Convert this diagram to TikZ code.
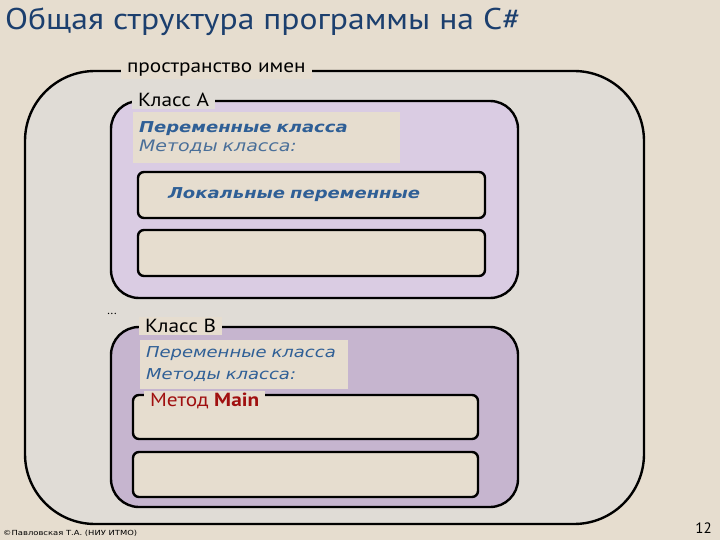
\documentclass[tikz,border=0pt]{standalone}
\usepackage{fontspec}
\setmainfont{PT Sans}
\newfontfamily\tahomafont[FakeStretch=1.12]{PT Sans}
\newfontfamily\verdanafont[FakeStretch=1.2]{DejaVu Sans}
\usepackage{xcolor}
\definecolor{cPaper}{HTML}{E6DDCF}
\definecolor{cSpace}{HTML}{E0DCD6}
\definecolor{cClassA}{HTML}{DACCE3}
\definecolor{cClassB}{HTML}{C6B5CF}
\definecolor{cTitle}{HTML}{1C3F6E}
\definecolor{cText}{HTML}{2F5F96}
\definecolor{cTextLight}{HTML}{4A6F99}
\definecolor{cMain}{HTML}{A01010}
\usepackage{tikz}
\usetikzlibrary{positioning}
\tikzset{
  node-frame/.style={draw=black,line width=2.4pt,inner sep=0pt},
  node-space/.style={node-frame,fill=cSpace,rounded corners=70pt},
  node-class/.style={node-frame,rounded corners=28pt},
  node-block/.style={node-frame,fill=cPaper,rounded corners=6pt,
    minimum height=46pt},
  node-vars/.style={fill=cPaper,inner xsep=6pt,inner ysep=0pt,align=left,
    font=\verdanafont\fontsize{15}{19}\selectfont},
  node-tag/.style={anchor=west,inner xsep=6pt,inner ysep=2pt,
    font=\tahomafont\fontsize{19}{22}\selectfont},
}

\begin{document}
\begin{tikzpicture}[x=1pt,y=-1pt]
  \useasboundingbox[fill=cPaper] (0,0) rectangle (720,540);
  \node[anchor=base west,text=cTitle,inner sep=0pt,
    font=\tahomafont\fontsize{30}{33}\selectfont] (title) at (5,30)
    {Общая структура программы на C\#};
  % пространство имен
  \node[node-space,minimum width=619,minimum height=453] (space) at (334.5,297.5) {};
  \node[node-tag,fill=cPaper] (space-tag) at ([xshift=97pt]space.north west) {пространство имен};
  % класс A
  \node[node-class,fill=cClassA,minimum width=407,minimum height=197] (classA) at (314.5,199.5) {};
  \node[node-vars,text width=255pt,minimum height=51pt] (classA-vars) at (266.5,137.5)
    {\textcolor{cText}{\bfseries\itshape Переменные класса}\\
     \textcolor{cTextLight}{\itshape\fontsize{15.8}{19}\selectfont Методы класса:}};
  \node[node-block,minimum width=347,inner xsep=30pt,text width=287pt,align=left,
    font=\verdanafont\bfseries\itshape\fontsize{15}{18}\selectfont,text=cText]
    (classA-local) at (311.5,195) {Локальные переменные};
  \node[node-block,minimum width=347] (classA-free) at (311.5,253) {};
  \node[node-tag,fill=cSpace] (classA-tag) at ([xshift=22pt]classA.north west) {Класс А};
  \node[font=\fontsize{12}{12}\selectfont,inner sep=0pt] (dots) at (112,314) {...};
  % класс B
  \node[node-class,fill=cClassB,minimum width=407,minimum height=180] (classB) at (314.5,417) {};
  \node[node-vars,text width=196pt,minimum height=49pt,
    font=\verdanafont\itshape\fontsize{15}{22}\selectfont] (classB-vars) at (244,364.5)
    {\textcolor{cText}{Переменные класса}\\
     \textcolor{cText}{Методы класса:}};
  \node[node-block,minimum width=345,minimum height=44pt] (classB-main) at (305.5,417) {};
  \node[node-block,minimum width=345,minimum height=45pt] (classB-free) at (305.5,474.5) {};
  \node[node-tag,fill=cPaper] (classB-tag) at ([xshift=29pt]classB.north west) {Класс В};
  \node[node-tag,fill=cPaper,text=cMain,font=\tahomafont\fontsize{19}{22}\selectfont]
    (main-tag) at ([xshift=12pt,yshift=-7pt]classB-main.north west) {Метод \textbf{Main}};
  % подвал
  \node[anchor=base west,inner sep=0pt,font=\verdanafont\fontsize{7}{8}\selectfont]
    (footer) at (3,535) {©Павловская Т.А. (НИУ ИТМО)};
  \node[anchor=base east,inner sep=0pt,font=\fontsize{15}{15}\selectfont]
    (page) at (712,533) {12};
\end{tikzpicture}
\end{document}
